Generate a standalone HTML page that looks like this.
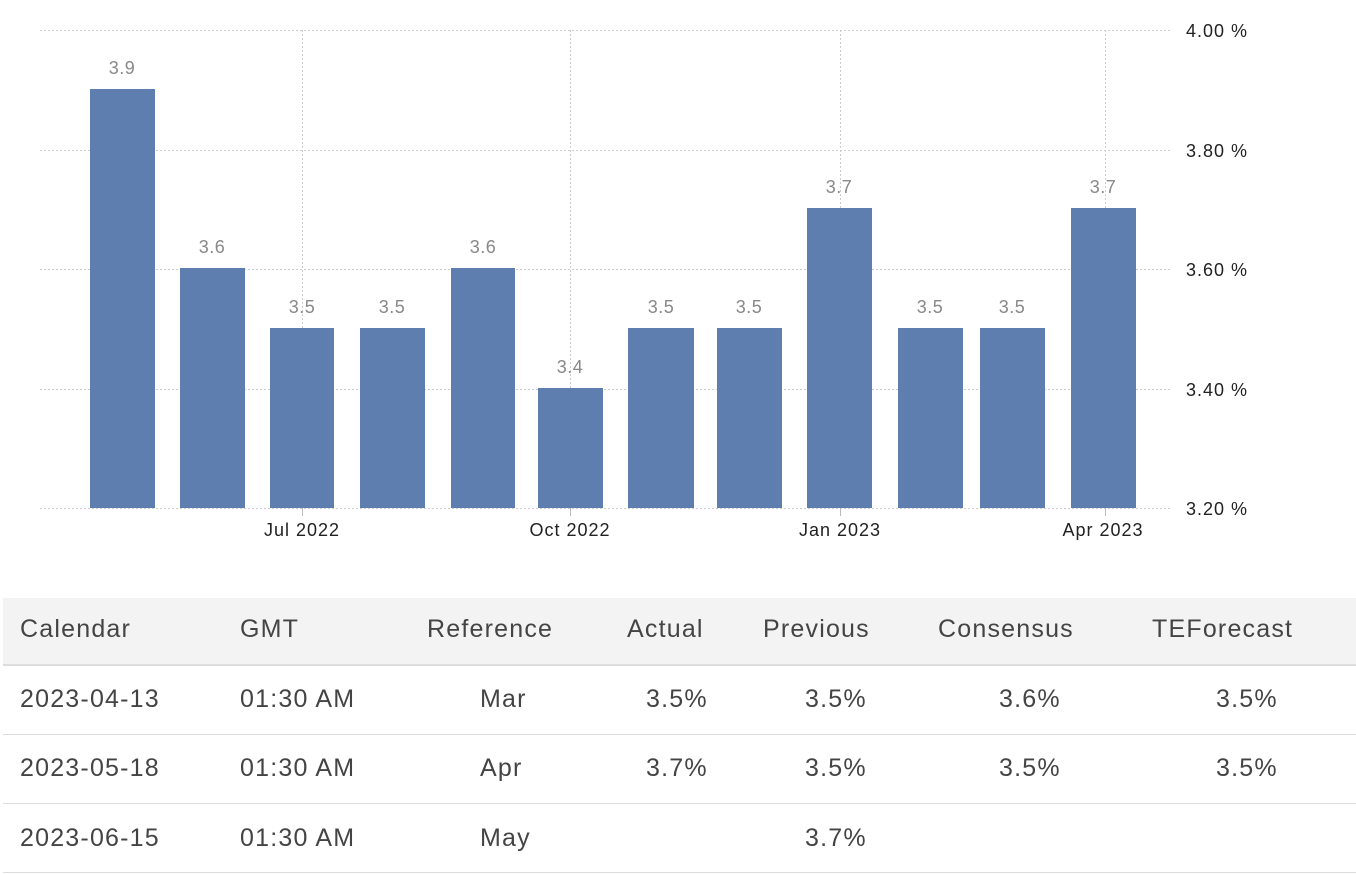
<!DOCTYPE html>
<html><head><style>
body{margin:0;width:1356px;height:874px;background:#fff;overflow:hidden;font-family:"Liberation Sans",Arial,sans-serif}
.t{position:absolute;font-size:25px;letter-spacing:1.2px;color:#444;white-space:nowrap}
</style></head><body>
<svg width="1356" height="590" style="position:absolute;left:0;top:0" font-family="Liberation Sans, Arial, sans-serif">
<g stroke="#ccc" stroke-dasharray="2,2" stroke-width="1">
<line x1="40" x2="1170" y1="30.5" y2="30.5"/><line x1="40" x2="1170" y1="150.5" y2="150.5"/>
<line x1="40" x2="1170" y1="269.5" y2="269.5"/><line x1="40" x2="1170" y1="389.5" y2="389.5"/>
<line x1="40" x2="1170" y1="508.5" y2="508.5"/>
<line x1="302.5" x2="302.5" y1="30" y2="508"/><line x1="570.5" x2="570.5" y1="30" y2="508"/>
<line x1="840.5" x2="840.5" y1="30" y2="508"/><line x1="1105.5" x2="1105.5" y1="30" y2="508"/>
</g>
<g stroke="#bbb"><line x1="302.5" x2="302.5" y1="508" y2="516"/><line x1="570.5" x2="570.5" y1="508" y2="516"/><line x1="840.5" x2="840.5" y1="508" y2="516"/><line x1="1105.5" x2="1105.5" y1="508" y2="516"/></g>
<g fill="#5d7eae">
<rect x="90" y="89" width="65" height="419"/><rect x="180" y="268" width="65" height="240"/>
<rect x="270" y="328" width="64" height="180"/><rect x="360" y="328" width="65" height="180"/>
<rect x="451" y="268" width="64" height="240"/><rect x="538" y="388" width="65" height="120"/>
<rect x="628" y="328" width="66" height="180"/><rect x="717" y="328" width="65" height="180"/>
<rect x="807" y="208" width="65" height="300"/><rect x="898" y="328" width="65" height="180"/>
<rect x="980" y="328" width="65" height="180"/><rect x="1071" y="208" width="65" height="300"/>
</g>
<g fill="#888" font-size="18" text-anchor="middle" letter-spacing="0.5">
<text x="122" y="74">3.9</text><text x="212" y="253">3.6</text><text x="302" y="313">3.5</text><text x="392" y="313">3.5</text>
<text x="483" y="253">3.6</text><text x="570" y="373">3.4</text><text x="661" y="313">3.5</text><text x="749" y="313">3.5</text>
<text x="839" y="193">3.7</text><text x="930" y="313">3.5</text><text x="1012" y="313">3.5</text><text x="1103" y="193">3.7</text>
</g>
<g fill="#222" font-size="18" letter-spacing="1">
<text x="1186" y="37">4.00 %</text><text x="1186" y="157">3.80 %</text><text x="1186" y="276">3.60 %</text>
<text x="1186" y="396">3.40 %</text><text x="1186" y="515">3.20 %</text>
</g>
<g fill="#222" font-size="18" text-anchor="middle" letter-spacing="1">
<text x="302" y="536">Jul 2022</text><text x="570" y="536">Oct 2022</text><text x="840" y="536">Jan 2023</text><text x="1103" y="536">Apr 2023</text>
</g>
</svg>
<div style="position:absolute;left:3px;top:598px;width:1353px;height:66px;background:#f3f3f3;border-bottom:2px solid #ddd"></div>
<div style="position:absolute;left:3px;top:734px;width:1353px;height:1px;background:#ddd"></div>
<div style="position:absolute;left:3px;top:803px;width:1353px;height:1px;background:#ddd"></div>
<div style="position:absolute;left:3px;top:872px;width:1353px;height:1px;background:#ddd"></div>
<div class="t" style="left:20px;top:615px">Calendar</div><div class="t" style="left:240px;top:615px">GMT</div>
<div class="t" style="left:427px;top:615px">Reference</div><div class="t" style="left:627px;top:615px">Actual</div>
<div class="t" style="left:763px;top:615px">Previous</div><div class="t" style="left:938px;top:615px">Consensus</div>
<div class="t" style="left:1152px;top:615px">TEForecast</div>

<div class="t" style="left:20px;top:685px">2023-04-13</div><div class="t" style="left:240px;top:685px">01:30 AM</div>
<div class="t" style="left:480px;top:685px">Mar</div><div class="t" style="left:646px;top:685px">3.5%</div>
<div class="t" style="left:805px;top:685px">3.5%</div><div class="t" style="left:999px;top:685px">3.6%</div>
<div class="t" style="left:1216px;top:685px">3.5%</div>

<div class="t" style="left:20px;top:754px">2023-05-18</div><div class="t" style="left:240px;top:754px">01:30 AM</div>
<div class="t" style="left:480px;top:754px">Apr</div><div class="t" style="left:646px;top:754px">3.7%</div>
<div class="t" style="left:805px;top:754px">3.5%</div><div class="t" style="left:999px;top:754px">3.5%</div>
<div class="t" style="left:1216px;top:754px">3.5%</div>

<div class="t" style="left:20px;top:824px">2023-06-15</div><div class="t" style="left:240px;top:824px">01:30 AM</div>
<div class="t" style="left:480px;top:824px">May</div><div class="t" style="left:805px;top:824px">3.7%</div>
</body></html>
